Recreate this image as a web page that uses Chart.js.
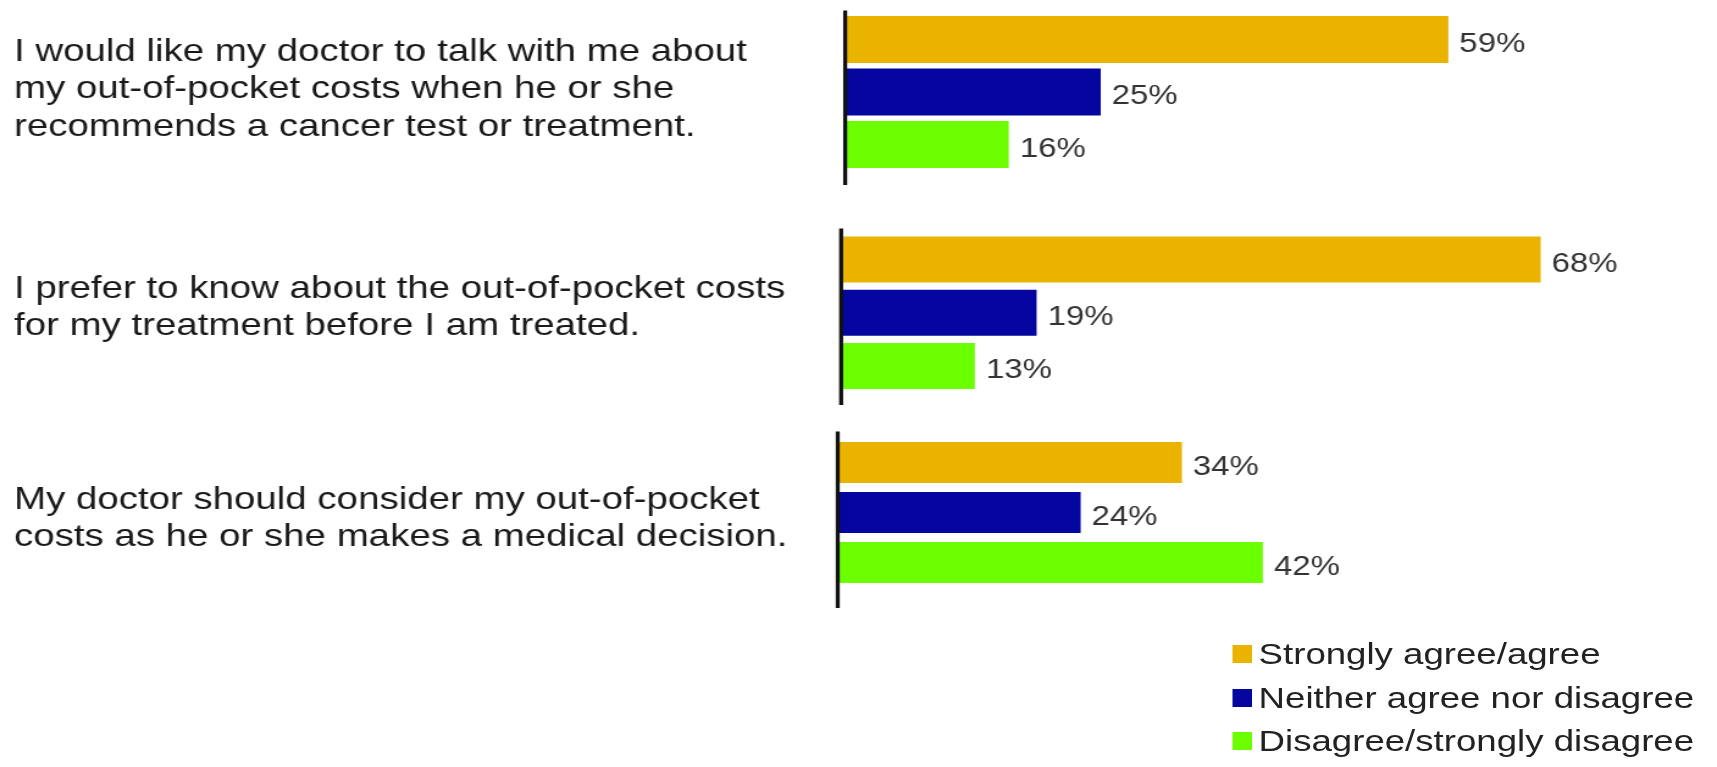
<!DOCTYPE html>
<html>
<head>
<meta charset="utf-8">
<script src="https://cdn.jsdelivr.net/npm/chart.js@4.4.1/dist/chart.umd.min.js"></script>
<style>
  body { margin: 0; background: #fff; overflow: hidden; }
  /* the source picture is stretched sideways, so the whole page is too */
  #wrap { position: absolute; left: 0; top: 0; width: 1407px; height: 767px; transform: scaleX(1.2203); transform-origin: 0 0; }
  .block { position: absolute; left: 0; width: 1407px; }
  #legend { position: absolute; left: 1010px; top: 632px; font: 30px "Liberation Sans", Arial, sans-serif; color: #222; }
  .row { display: flex; align-items: center; height: 43.8px; white-space: nowrap; }
  .box { display: inline-block; width: 16.4px; height: 18px; margin-right: 5px; }
</style>
</head>
<body>
<div id="wrap">
  <div class="block" style="top:0;height:215px"><canvas id="c0"></canvas></div>
  <div class="block" style="top:215px;height:200px"><canvas id="c1"></canvas></div>
  <div class="block" style="top:415px;height:200px"><canvas id="c2"></canvas></div>
  <div id="legend"></div>
</div>
<script>
var questions = [
    ['I would like my doctor to talk with me about', 'my out-of-pocket costs when he or she', 'recommends a cancer test or treatment.'],
    ['I prefer to know about the out-of-pocket costs', 'for my treatment before I am treated.'],
    ['My doctor should consider my out-of-pocket', 'costs as he or she makes a medical decision.']
];
var seriesNames = ['Strongly agree/agree', 'Neither agree nor disagree', 'Disagree/strongly disagree'];
var agree    = [59, 68, 34];
var neither  = [25, 19, 24];
var disagree = [16, 13, 42];

var colors = ['#E9B300', '#0505A0', '#6BFF00'];
var font = '"Liberation Sans", Arial, sans-serif';

// per block layout: axis x, paddings, bar size, axis line overhang, label shift
var blocks = [
    { axisX: 692.6, top: 13.25, bottom: 44.25, right: 44.2, bar: 0.895, above: 2.75, below: 14.25, shift: -2.2 },
    { axisX: 689.3, top: 17.9,  bottom: 22.4,  right: 43.3, bar: 0.864, above: 4.4,  below: 12.4,  shift: -5 },
    { axisX: 686.5, top: 22.5,  bottom: 27.5,  right: 56.9, bar: 0.82,  above: 6,    below: 20.5,  shift: 6.7 }
];
var padLeft = 11.5;

// the black vertical axis, a bit longer than the bars
const axisLine = {
    id: 'axisLine',
    afterDatasetsDraw(chart, args, opts) {
        const ctx = chart.ctx;
        const area = chart.chartArea;
        const x = chart.scales.x.getPixelForValue(0);
        ctx.save();
        ctx.strokeStyle = '#111';
        ctx.lineWidth = 3.3;
        ctx.beginPath();
        ctx.moveTo(x, area.top - opts.above);
        ctx.lineTo(x, area.bottom + opts.below);
        ctx.stroke();
        ctx.restore();
    }
};

// "59%" etc. after each bar
const valueLabels = {
    id: 'valueLabels',
    afterDatasetsDraw(chart) {
        const ctx = chart.ctx;
        ctx.save();
        ctx.font = '27px ' + font;
        ctx.fillStyle = '#333';
        ctx.textBaseline = 'middle';
        chart.data.datasets.forEach((ds, i) => {
            chart.getDatasetMeta(i).data.forEach((bar, j) => {
                ctx.fillText(ds.data[j] + '%', bar.x + 9, bar.y + 5);
            });
        });
        ctx.restore();
    }
};

var series = [agree, neither, disagree];
var charts = [];

blocks.forEach(function(b, i) {
    var chart = new Chart(document.getElementById('c' + i), {
        type: 'bar',
        data: {
            labels: [questions[i]],
            datasets: seriesNames.map(function(name, s) {
                return {
                    label: name,
                    data: [series[s][i]],
                    backgroundColor: colors[s],
                    borderWidth: 0,
                    barPercentage: b.bar,
                    categoryPercentage: 1
                };
            })
        },
        options: {
            indexAxis: 'y',
            responsive: true,
            maintainAspectRatio: false,
            animation: false,
            layout: { padding: { left: padLeft, right: b.right, top: b.top, bottom: b.bottom } },
            scales: {
                x: { display: false, min: 0, max: 80 },
                y: {
                    grid: { display: false },
                    border: { display: false },
                    ticks: {
                        crossAlign: 'far',
                        padding: 0,
                        labelOffset: b.shift,
                        color: '#1a1a1a',
                        font: { family: font, size: 31.5, lineHeight: 1.175 }
                    },
                    afterFit: function(scale) {
                        scale.width = b.axisX - padLeft;
                        // the tall labels must not squeeze the bars
                        scale.paddingTop = 0;
                        scale.paddingBottom = 0;
                    }
                }
            },
            plugins: {
                legend: { display: false },
                tooltip: { enabled: false },
                axisLine: { above: b.above, below: b.below }
            }
        },
        plugins: [axisLine, valueLabels]
    });
    charts.push(chart);
});

// legend as a column under the last group
var legendHtml = '';
charts[2].data.datasets.forEach(function(ds) {
    legendHtml += '<div class="row"><span class="box" style="background:' + ds.backgroundColor + '"></span>' + ds.label + '</div>';
});
document.getElementById('legend').innerHTML = legendHtml;
</script>
</body>
</html>
